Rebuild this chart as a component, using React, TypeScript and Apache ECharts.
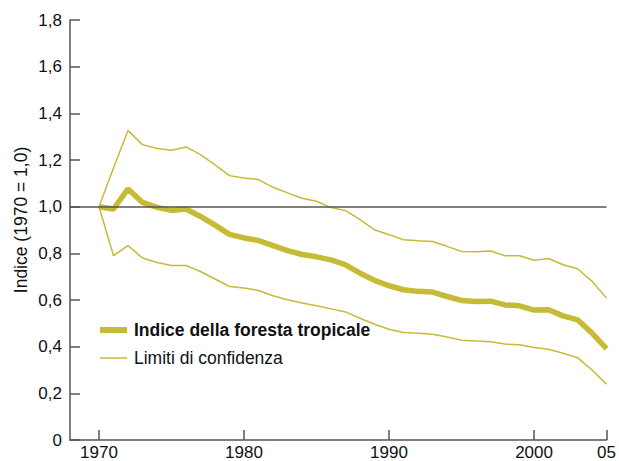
import React, { useEffect, useRef } from "react";
import * as echarts from "echarts";

const years = [
  1970, 1971, 1972, 1973, 1974, 1975, 1976, 1977, 1978, 1979,
  1980, 1981, 1982, 1983, 1984, 1985, 1986, 1987, 1988, 1989,
  1990, 1991, 1992, 1993, 1994, 1995, 1996, 1997, 1998, 1999,
  2000, 2001, 2002, 2003, 2004, 2005,
];
const indexValues = [
  1.0, 0.99, 1.076, 1.018, 0.997, 0.984, 0.99, 0.958, 0.921, 0.881,
  0.866, 0.855, 0.833, 0.812, 0.795, 0.785, 0.772, 0.751, 0.715, 0.684,
  0.661, 0.644, 0.637, 0.634, 0.615, 0.598, 0.594, 0.595, 0.579, 0.575,
  0.557, 0.558, 0.532, 0.515, 0.458, 0.392,
];
const upperValues = [
  1.0, 1.166, 1.326, 1.266, 1.249, 1.242, 1.256, 1.223, 1.179, 1.133,
  1.123, 1.116, 1.083, 1.059, 1.036, 1.023, 0.996, 0.983, 0.944, 0.901,
  0.88, 0.858, 0.854, 0.851, 0.83, 0.808, 0.807, 0.81, 0.79, 0.79,
  0.77, 0.778, 0.751, 0.734, 0.68, 0.608,
];
const lowerValues = [
  1.0, 0.79, 0.833, 0.78, 0.761, 0.748, 0.748, 0.722, 0.69, 0.658,
  0.651, 0.641, 0.618, 0.601, 0.587, 0.575, 0.562, 0.549, 0.522, 0.496,
  0.475, 0.461, 0.458, 0.453, 0.441, 0.428, 0.424, 0.421, 0.411, 0.408,
  0.396, 0.389, 0.372, 0.353, 0.3, 0.239,
];
const xTickYears = [1970, 1980, 1990, 2000, 2005];
const seriesNames = ["Indice della foresta tropicale", "Limiti di confidenza"];
const yAxisTitle = "Indice (1970 = 1,0)";

const LINE_COLOR = "#c6bb35";
const AXIS_COLOR = "#555555";
const TEXT_COLOR = "#111111";
const FONT = "'Liberation Sans', Arial, Helvetica, sans-serif";

export default function App() {
  const ref = useRef<HTMLDivElement>(null);
  useEffect(() => {
    if (!ref.current) return;
    const chart = echarts.init(ref.current, undefined, { renderer: "svg" });
    const pair = (vals: number[]) => years.map((y, i) => [y, vals[i]]);
    chart.setOption({
      animation: false,
      textStyle: { fontFamily: FONT },
      grid: { left: 70, right: 9, top: 20, bottom: 21, containLabel: false },
      legend: {
        orient: "vertical",
        left: 97,
        top: 321,
        padding: 0,
        itemWidth: 27,
        itemHeight: 14,
        itemGap: 10,
        itemStyle: { opacity: 0 },
        textStyle: {
          fontSize: 17.5,
          color: TEXT_COLOR,
          fontFamily: FONT,
          padding: [0, 0, 0, 2],
        },
        data: [
          {
            name: seriesNames[0],
            textStyle: { fontWeight: "bold" },
            lineStyle: { width: 6 },
          },
          { name: seriesNames[1], lineStyle: { width: 1.5 } },
        ],
      },
      graphic: [
        {
          type: "text",
          x: 21,
          y: 220,
          rotation: Math.PI / 2,
          style: {
            text: yAxisTitle,
            font: `17.5px ${FONT}`,
            fill: TEXT_COLOR,
            align: "center",
            verticalAlign: "middle",
          },
        },
      ],
      xAxis: {
        type: "value",
        min: 1968,
        max: 2005,
        splitLine: { show: false },
        axisLine: { show: true, lineStyle: { color: AXIS_COLOR, width: 1.5 } },
        axisTick: {
          show: true,
          inside: true,
          length: 10,
          customValues: xTickYears,
          lineStyle: { color: AXIS_COLOR, width: 1.5 },
        },
        axisLabel: {
          customValues: xTickYears,
          margin: 4,
          fontSize: 17,
          color: TEXT_COLOR,
          fontFamily: FONT,
          formatter: (v: number) => (v === 2005 ? "05" : String(v)),
        },
      },
      yAxis: {
        type: "value",
        min: 0,
        max: 1.8,
        interval: 0.2,
        splitLine: { show: false },
        axisLine: { show: true, lineStyle: { color: AXIS_COLOR, width: 1.5 } },
        axisTick: {
          show: true,
          inside: true,
          length: 10,
          lineStyle: { color: AXIS_COLOR, width: 1.5 },
        },
        axisLabel: {
          margin: 8,
          fontSize: 17,
          color: TEXT_COLOR,
          fontFamily: FONT,
          formatter: (v: number) =>
            v === 0 ? "0" : v.toFixed(1).replace(".", ","),
        },
      },
      series: [
        {
          name: seriesNames[1],
          type: "line",
          data: pair(upperValues),
          symbol: "none",
          lineStyle: { color: LINE_COLOR, width: 1.5 },
          itemStyle: { color: LINE_COLOR },
          markLine: {
            silent: true,
            symbol: "none",
            label: { show: false },
            lineStyle: { color: AXIS_COLOR, width: 1.5, type: "solid" },
            data: [{ yAxis: 1 }],
          },
          z: 3,
        },
        {
          name: seriesNames[1],
          type: "line",
          data: pair(lowerValues),
          symbol: "none",
          lineStyle: { color: LINE_COLOR, width: 1.5 },
          itemStyle: { color: LINE_COLOR },
          z: 3,
        },
        {
          name: seriesNames[0],
          type: "line",
          data: pair(indexValues),
          symbol: "none",
          lineStyle: { color: LINE_COLOR, width: 5.5 },
          itemStyle: { color: LINE_COLOR },
          z: 4,
        },
      ],
    });
    return () => chart.dispose();
  }, []);
  return (
    <div
      ref={ref}
      style={{ position: "absolute", left: 0, top: 0, width: 619, height: 461 }}
    />
  );
}
